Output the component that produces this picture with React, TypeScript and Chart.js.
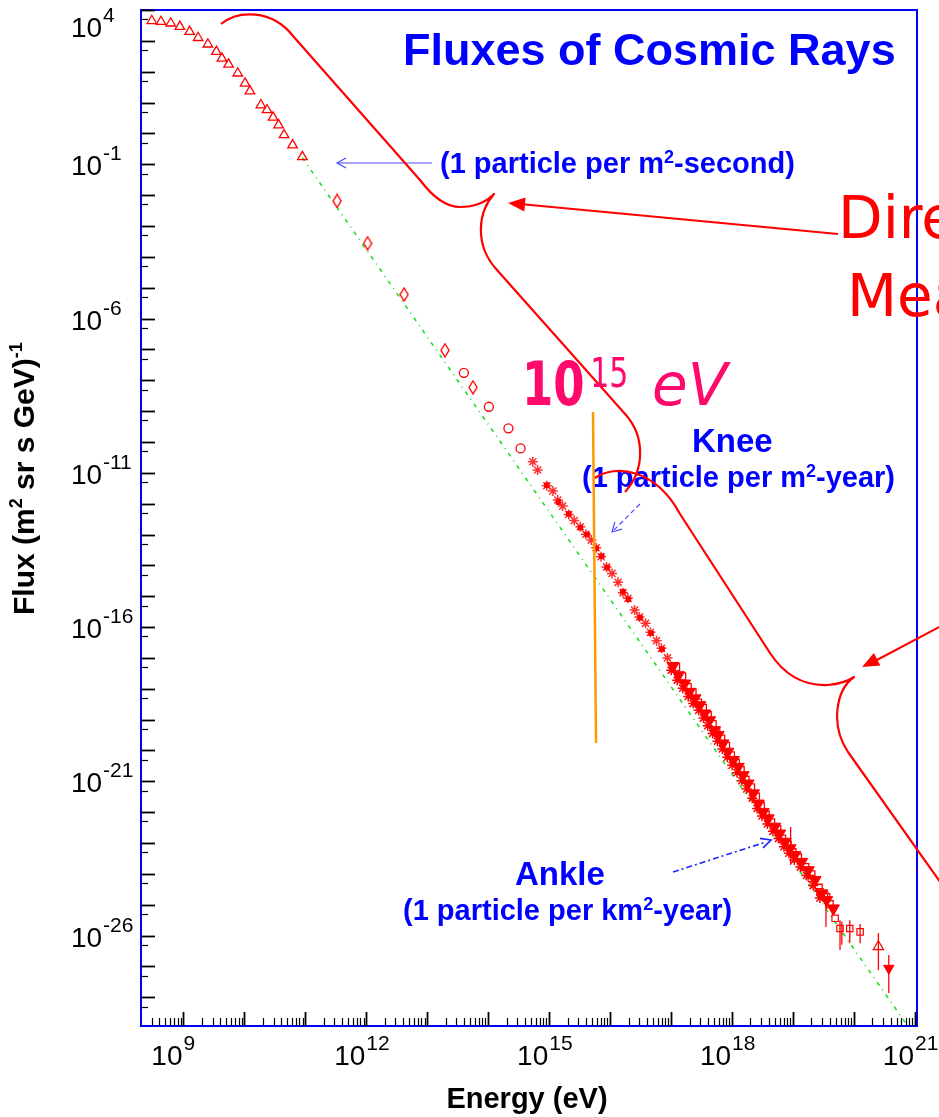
import React, { useEffect, useRef } from "react";
import { Chart, registerables } from "chart.js";

Chart.register(...registerables);

// ---- axes (exponents of ten) ----
const xRangeExp = [8.303, 21.033];
const yRangeExp = [-28.93, 4];
const xLabelExps = [9, 12, 15, 18, 21];
const yLabelExps = [4, -1, -6, -11, -16, -21, -26];

// ---- data (log10 energy [eV], log10 flux) ----
const triEnergyExp = [8.48, 8.63, 8.79, 8.94, 9.1, 9.24, 9.4, 9.54, 9.63, 9.74, 9.89, 10.01, 10.09, 10.27, 10.37, 10.47, 10.56, 10.65, 10.79, 10.95];
const triFluxExp = [3.65, 3.62, 3.57, 3.46, 3.3, 3.1, 2.89, 2.65, 2.43, 2.24, 1.95, 1.62, 1.37, 0.92, 0.76, 0.52, 0.27, -0.05, -0.38, -0.76];

const diamondEnergyExp = [11.52, 12.02, 12.62, 13.29, 13.75];
const diamondFluxExp = [-2.19, -3.56, -5.22, -7.03, -8.23];

const circleEnergyExp = [13.6, 14.01, 14.33, 14.53];
const circleFluxExp = [-7.76, -8.86, -9.56, -10.21];

const starEnergyExp = [14.73, 14.81, 14.96, 15.06, 15.14, 15.22, 15.32, 15.41, 15.51, 15.6, 15.69, 15.77, 15.85, 15.94, 16.03, 16.13, 16.21, 16.29, 16.4, 16.48, 16.58, 16.66, 16.76, 16.84, 16.94];
const starFluxExp = [-10.64, -10.91, -11.42, -11.59, -11.88, -12.08, -12.35, -12.55, -12.75, -12.99, -13.18, -13.43, -13.72, -14.05, -14.26, -14.55, -14.89, -15.07, -15.45, -15.67, -15.88, -16.17, -16.44, -16.69, -17.0];

const squareEnergyExp = [14.96, 15.15, 15.32, 15.51, 15.62, 15.77, 15.86, 15.95, 16.21, 16.3, 16.49, 16.67, 16.85];
const squareFluxExp = [-11.4, -11.95, -12.33, -12.78, -13.0, -13.45, -13.7, -14.07, -14.85, -15.1, -15.7, -16.2, -16.72];

const bandEnergyExp = [17.03, 17.12, 17.22, 17.3, 17.39, 17.47, 17.55, 17.63, 17.71, 17.77, 17.85, 17.93, 18.02, 18.1, 18.18, 18.26, 18.35, 18.43, 18.51, 18.59, 18.7, 18.78, 18.87, 18.95, 19.03, 19.14, 19.25, 19.36, 19.47, 19.55, 19.66];
const bandFluxExp = [-17.26, -17.56, -17.83, -18.1, -18.31, -18.53, -18.8, -19.02, -19.34, -19.5, -19.77, -20.04, -20.31, -20.53, -20.8, -21.07, -21.39, -21.72, -21.99, -22.2, -22.47, -22.69, -22.96, -23.17, -23.39, -23.61, -23.88, -24.2, -24.63, -24.85, -25.12];

const bandUpperEnergyExp = [17.08, 17.18, 17.27, 17.35, 17.44, 17.52, 17.6, 17.68, 17.74, 17.82, 17.9, 17.98, 18.06, 18.14, 18.22, 18.31, 18.39, 18.47, 18.55, 18.64, 18.74, 18.82, 18.91, 18.99, 19.08, 19.2, 19.3, 19.42, 19.51, 19.6];
const bandUpperFluxExp = [-17.3, -17.6, -17.95, -18.12, -18.45, -18.62, -18.86, -19.15, -19.38, -19.62, -19.85, -20.16, -20.4, -20.64, -20.95, -21.2, -21.5, -21.8, -22.08, -22.33, -22.55, -22.86, -23.05, -23.3, -23.47, -23.78, -24.02, -24.45, -24.7, -24.98];

const bandLowerEnergyExp = [17.0, 17.1, 17.19, 17.28, 17.36, 17.45, 17.53, 17.6, 17.68, 17.76, 17.84, 17.92, 18.0, 18.08, 18.16, 18.24, 18.33, 18.41, 18.49, 18.58, 18.67, 18.76, 18.85, 18.93, 19.02, 19.12, 19.22, 19.33, 19.44];
const bandLowerFluxExp = [-17.4, -17.72, -17.98, -18.25, -18.48, -18.7, -18.95, -19.2, -19.45, -19.7, -19.95, -20.22, -20.48, -20.72, -20.98, -21.25, -21.55, -21.88, -22.12, -22.38, -22.62, -22.85, -23.12, -23.33, -23.55, -23.78, -24.05, -24.38, -24.78];

const openEnergyExp = [19.3, 19.44, 19.55, 19.69, 19.77, 19.93, 20.1];
const openFluxExp = [-24.15, -24.58, -24.74, -25.44, -25.77, -25.77, -25.88];

const uheUpEnergyExp = [20.4];
const uheUpFluxExp = [-26.36];
const uheDownEnergyExp = [20.57];
const uheDownFluxExp = [-27.06];

const errEnergyExp = [18.96, 19.54, 19.77, 19.8, 19.93, 20.1, 20.4, 20.57];
const errLowExp = [-23.71, -25.72, -26.47, -26.3, -26.24, -26.25, -27.12, -27.86];
const errHighExp = [-22.48, -24.9, -25.5, -25.55, -25.5, -25.62, -25.92, -26.63];

const fitEnergyExp = [10.95, 20.88];
const fitFluxExp = [-0.79, -28.93];

const pow = (e: number) => Math.pow(10, e);
const pts = (ex: number[], fy: number[]) => ex.map((e, i) => ({ x: pow(e), y: pow(fy[i]) }));

const RED = "#ff0000";
const BLUE = "#0000ff";
const SANS = '"Liberation Sans", Arial, sans-serif';
const DJ = '"DejaVu Sans", sans-serif';

function makeDiamond(w: number, h: number, color: string): HTMLCanvasElement {
  const c = document.createElement("canvas");
  c.width = w;
  c.height = h;
  const g = c.getContext("2d")!;
  g.strokeStyle = color;
  g.lineWidth = 1.4;
  g.beginPath();
  g.moveTo(w / 2, 1);
  g.lineTo(w - 1, h / 2);
  g.lineTo(w / 2, h - 1);
  g.lineTo(1, h / 2);
  g.closePath();
  g.stroke();
  return c;
}

type Part = [string, boolean];
function drawRich(ctx: CanvasRenderingContext2D, parts: Part[], x: number, y: number, font: string, supFont: string, rise: number) {
  let cx = x;
  for (const [t, sup] of parts) {
    ctx.font = sup ? supFont : font;
    ctx.fillText(t, cx, sup ? y - rise : y);
    cx += ctx.measureText(t).width;
  }
  return cx;
}

function arrowHead(ctx: CanvasRenderingContext2D, fx: number, fy: number, tx: number, ty: number, len: number, half: number, filled: boolean) {
  const a = Math.atan2(ty - fy, tx - fx);
  const bx = tx - Math.cos(a) * len;
  const by = ty - Math.sin(a) * len;
  const px = -Math.sin(a) * half;
  const py = Math.cos(a) * half;
  ctx.beginPath();
  if (filled) {
    ctx.moveTo(tx, ty);
    ctx.lineTo(bx + px, by + py);
    ctx.lineTo(bx - px, by - py);
    ctx.closePath();
    ctx.fill();
  } else {
    ctx.moveTo(bx + px, by + py);
    ctx.lineTo(tx, ty);
    ctx.lineTo(bx - px, by - py);
    ctx.stroke();
  }
}

const framePlugin = {
  id: "frame",
  afterDatasetsDraw(chart: any) {
    const ctx: CanvasRenderingContext2D = chart.ctx;
    const xs = chart.scales.x;
    const ys = chart.scales.y;
    ctx.save();
    ctx.strokeStyle = RED;
    ctx.lineWidth = 1.3;
    errEnergyExp.forEach((e, i) => {
      const px = xs.getPixelForValue(pow(e));
      const y1 = ys.getPixelForValue(pow(errLowExp[i]));
      const y2 = ys.getPixelForValue(pow(errHighExp[i]));
      ctx.beginPath();
      ctx.moveTo(px, y1);
      ctx.lineTo(px, y2);
      ctx.stroke();
    });
    ctx.restore();
  },
  afterDraw(chart: any) {
    const ctx: CanvasRenderingContext2D = chart.ctx;
    const xs = chart.scales.x;
    const ys = chart.scales.y;
    const { left, right, top, bottom } = chart.chartArea;
    const X = (e: number) => xs.getPixelForValue(pow(e));
    const Y = (e: number) => ys.getPixelForValue(pow(e));
    ctx.save();

    // frame
    ctx.strokeStyle = BLUE;
    ctx.lineWidth = 2;
    ctx.strokeRect(left, top, right - left, bottom - top);

    // ticks
    ctx.strokeStyle = "#000";
    for (let e = Math.floor(xRangeExp[0]); e <= Math.ceil(xRangeExp[1]); e++) {
      for (let k = 1; k <= 9; k++) {
        const v = e + Math.log10(k);
        if (v < xRangeExp[0] || v > xRangeExp[1]) continue;
        const px = Math.round(X(v)) + 0.5;
        ctx.lineWidth = k === 1 ? 1.8 : 1.2;
        ctx.beginPath();
        ctx.moveTo(px, bottom);
        ctx.lineTo(px, bottom - (k === 1 ? 14 : 8));
        ctx.stroke();
      }
    }
    for (let e = Math.floor(yRangeExp[0]); e <= Math.ceil(yRangeExp[1]); e++) {
      const vals: [number, number][] = [[e, 14], [e - 0.30103, 7]];
      for (const [v, len] of vals) {
        if (v < yRangeExp[0] || v > yRangeExp[1]) continue;
        const py = Math.round(Y(v)) + 0.5;
        ctx.lineWidth = len === 14 ? 1.8 : 1.2;
        ctx.beginPath();
        ctx.moveTo(left, py);
        ctx.lineTo(left + len, py);
        ctx.stroke();
      }
    }

    // tick labels
    ctx.fillStyle = "#000";
    ctx.textBaseline = "alphabetic";
    for (const e of xLabelExps) {
      const px = X(e);
      ctx.font = `28px ${SANS}`;
      ctx.textAlign = "right";
      ctx.fillText("10", px - 1, bottom + 39);
      ctx.font = `21px ${SANS}`;
      ctx.textAlign = "left";
      ctx.fillText(String(e), px, bottom + 24);
    }
    for (const e of yLabelExps) {
      const py = Y(e);
      const base = Math.max(py + 11, top + 27);
      ctx.textAlign = "left";
      ctx.font = `28px ${SANS}`;
      ctx.fillText("10", 71, base);
      ctx.font = `21px ${SANS}`;
      ctx.fillText(String(e), 103, base - 15);
    }

    // axis titles
    ctx.font = `bold 29px ${SANS}`;
    ctx.textAlign = "center";
    ctx.fillText("Energy (eV)", 527, 1108);
    ctx.save();
    ctx.translate(34, 615);
    ctx.rotate(-Math.PI / 2);
    ctx.textAlign = "left";
    drawRich(ctx, [["Flux (m", false], ["2", true], [" sr s GeV)", false], ["-1", true]], 0, 0, `bold 30px ${SANS}`, `bold 18px ${SANS}`, 12);
    ctx.restore();

    // title
    ctx.fillStyle = BLUE;
    ctx.textAlign = "left";
    ctx.font = `bold 45px ${SANS}`;
    ctx.fillText("Fluxes of Cosmic Rays", 403, 65);

    // blue annotations
    const f29 = `bold 29px ${SANS}`;
    const f18 = `bold 18px ${SANS}`;
    drawRich(ctx, [["(1 particle per m", false], ["2", true], ["-second)", false]], 440, 173, f29, f18, 10);
    ctx.font = `bold 33px ${SANS}`;
    ctx.fillText("Knee", 692, 452);
    drawRich(ctx, [["(1 particle per m", false], ["2", true], ["-year)", false]], 582, 487, f29, f18, 10);
    ctx.font = `bold 33px ${SANS}`;
    ctx.fillText("Ankle", 515, 885);
    drawRich(ctx, [["(1 particle per km", false], ["2", true], ["-year)", false]], 403, 920, f29, f18, 10);

    ctx.strokeStyle = "#4a4aff";
    ctx.lineWidth = 1.2;
    ctx.beginPath();
    ctx.moveTo(432, 163);
    ctx.lineTo(337, 163);
    ctx.stroke();
    arrowHead(ctx, 432, 163, 337, 163, 9, 5, false);

    ctx.setLineDash([5, 3]);
    ctx.beginPath();
    ctx.moveTo(640, 504);
    ctx.lineTo(613, 531);
    ctx.stroke();
    ctx.setLineDash([]);
    arrowHead(ctx, 640, 504, 612, 532, 9, 5, false);

    ctx.strokeStyle = "#2222ff";
    ctx.lineWidth = 1.6;
    ctx.setLineDash([6, 3, 2, 3]);
    ctx.beginPath();
    ctx.moveTo(673, 872);
    ctx.lineTo(766, 842);
    ctx.stroke();
    ctx.setLineDash([]);
    arrowHead(ctx, 673, 872, 771, 840, 10, 5, false);

    // orange 10^15 marker line
    ctx.strokeStyle = "#ff9900";
    ctx.lineWidth = 2.5;
    ctx.beginPath();
    ctx.moveTo(593, 412);
    ctx.lineTo(596, 743);
    ctx.stroke();

    // red braces
    ctx.strokeStyle = RED;
    ctx.lineWidth = 2.2;
    ctx.lineJoin = "round";
    ctx.beginPath();
    ctx.moveTo(221, 24);
    ctx.bezierCurveTo(238, 10, 272, 9, 293, 36);
    ctx.lineTo(420, 180);
    ctx.bezierCurveTo(432, 196, 445, 207, 460, 207);
    ctx.bezierCurveTo(475, 207, 487, 201, 494, 194);
    ctx.bezierCurveTo(478, 212, 474, 245, 497, 270);
    ctx.lineTo(626, 415);
    ctx.bezierCurveTo(645, 437, 645, 470, 625, 492);
    ctx.stroke();

    ctx.beginPath();
    ctx.moveTo(595, 478);
    ctx.bezierCurveTo(615, 464, 655, 468, 680, 514);
    ctx.lineTo(770, 653);
    ctx.bezierCurveTo(785, 676, 805, 686, 828, 685);
    ctx.bezierCurveTo(840, 684, 848, 681, 854, 677);
    ctx.bezierCurveTo(836, 690, 830, 725, 848, 752);
    ctx.lineTo(960, 910);
    ctx.stroke();

    // red arrows
    ctx.fillStyle = RED;
    ctx.lineWidth = 2;
    ctx.beginPath();
    ctx.moveTo(838, 234);
    ctx.lineTo(520, 204);
    ctx.stroke();
    arrowHead(ctx, 838, 234, 508, 203, 17, 7, true);
    ctx.beginPath();
    ctx.moveTo(945, 624);
    ctx.lineTo(875, 661);
    ctx.stroke();
    arrowHead(ctx, 945, 624, 862, 667, 17, 7, true);

    // red big text
    ctx.font = `58px ${DJ}`;
    ctx.fillText("Direct", 838, 238);
    ctx.fillText("Measurements", 847, 316);

    // pink 10^15 eV
    ctx.fillStyle = "#ff0a6c";
    ctx.save();
    ctx.translate(522, 405);
    ctx.scale(0.75, 1);
    ctx.font = `bold 60px ${DJ}`;
    ctx.fillText("10", 0, 0);
    ctx.font = `40px ${DJ}`;
    ctx.fillText("15", 91, -18);
    ctx.restore();
    ctx.font = `oblique 58px ${DJ}`;
    ctx.fillText("eV", 652, 405);

    ctx.restore();
  },
};

export default function App() {
  const ref = useRef<HTMLCanvasElement | null>(null);
  useEffect(() => {
    if (!ref.current) return;
    const diamond = makeDiamond(10, 15, RED);
    const hollow = "rgba(0,0,0,0)";
    const chart = new Chart(ref.current, {
      type: "scatter",
      data: {
        datasets: [
          { data: pts(uheDownEnergyExp, uheDownFluxExp), pointStyle: "triangle", rotation: 180, radius: 6, backgroundColor: RED, borderColor: RED, borderWidth: 1 } as any,
          { data: pts(uheUpEnergyExp, uheUpFluxExp), pointStyle: "triangle", radius: 6, backgroundColor: hollow, borderColor: RED, borderWidth: 1.2 } as any,
          { data: pts(openEnergyExp, openFluxExp), pointStyle: "rect", radius: 4.5, backgroundColor: hollow, borderColor: RED, borderWidth: 1.2 } as any,
          { data: pts(bandEnergyExp, bandFluxExp), pointStyle: "triangle", rotation: 180, radius: 7, backgroundColor: RED, borderColor: RED, borderWidth: 1 } as any,
          { data: pts(bandUpperEnergyExp, bandUpperFluxExp), pointStyle: "rect", radius: 5, backgroundColor: hollow, borderColor: RED, borderWidth: 1.3 } as any,
          { data: pts(bandLowerEnergyExp, bandLowerFluxExp), pointStyle: "star", radius: 5, backgroundColor: RED, borderColor: RED, borderWidth: 1.5 } as any,
          { data: pts(squareEnergyExp, squareFluxExp), pointStyle: "rect", radius: 3.2, backgroundColor: RED, borderColor: RED, borderWidth: 1 } as any,
          { data: pts(starEnergyExp, starFluxExp), pointStyle: "star", radius: 5, backgroundColor: RED, borderColor: "#ff3030", borderWidth: 1.5 } as any,
          { data: pts(circleEnergyExp, circleFluxExp), pointStyle: "circle", radius: 4.5, backgroundColor: hollow, borderColor: RED, borderWidth: 1.3 } as any,
          { data: pts(diamondEnergyExp, diamondFluxExp), pointStyle: diamond, radius: 6 } as any,
          { data: pts(triEnergyExp, triFluxExp), pointStyle: "triangle", radius: 5.5, backgroundColor: hollow, borderColor: RED, borderWidth: 1.3 } as any,
          { type: "line", data: pts(fitEnergyExp, fitFluxExp), borderColor: "#22dd22", borderWidth: 1.6, borderDash: [4, 5, 1, 5], pointRadius: 0, showLine: true, fill: false } as any,
        ],
      },
      options: {
        responsive: false,
        animation: false,
        events: [],
        layout: { padding: { left: 141, right: 22, top: 10, bottom: 91 } },
        plugins: { legend: { display: false }, tooltip: { enabled: false }, title: { display: false } },
        scales: {
          x: { type: "logarithmic", min: pow(xRangeExp[0]), max: pow(xRangeExp[1]), display: false },
          y: { type: "logarithmic", min: pow(yRangeExp[0]), max: pow(yRangeExp[1]), display: false },
        },
      },
      plugins: [framePlugin],
    } as any);
    return () => chart.destroy();
  }, []);
  return (
    <div style={{ position: "absolute", left: 0, top: 0, width: 939, height: 1117, background: "#fff" }}>
      <canvas ref={ref} width={939} height={1117} style={{ display: "block" }} />
    </div>
  );
}
